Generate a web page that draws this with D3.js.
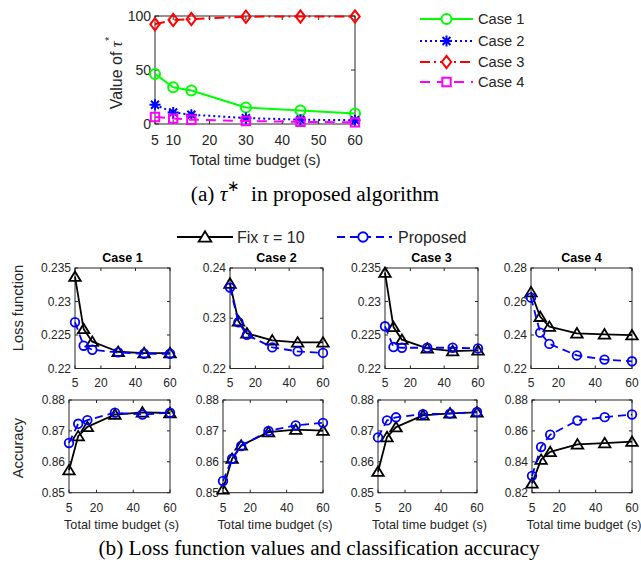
<!DOCTYPE html>
<html><head><meta charset="utf-8">
<script src="https://cdn.jsdelivr.net/npm/d3@7"></script>
<style>
html,body{margin:0;padding:0;background:#fff;}
svg{display:block;}
text{font-family:"Liberation Sans",Arial,sans-serif;fill:#262626;}
.cap{font-family:"Liberation Serif","Times New Roman",serif;fill:#000;}
</style></head>
<body>
<svg id="chart" width="641" height="567"></svg>
<script>
// ---------- DATA ----------
const timeBudget = [5, 10, 15, 30, 45, 60];
const topXTicks = [5, 10, 20, 30, 40, 50, 60];
const topYTicks = [0, 50, 100];
const tauCase1 = [46.4, 34.0, 31.0, 15.3, 12.6, 9.8];
const tauCase2 = [17.8, 10.7, 8.6, 5.5, 4.0, 3.5];
const tauCase3 = [92.3, 96.3, 97.2, 99.4, 99.5, 99.5];
const tauCase4 = [6.5, 5.0, 4.0, 2.8, 2.0, 1.5];
const caseNames = ["Case 1", "Case 2", "Case 3", "Case 4"];
const methodNames = ["Fix \u03C4 = 10", "Proposed"];
const bottomXTicks = [5, 20, 40, 60];

const lossFix1 = [0.2337, 0.2259, 0.2240, 0.2225, 0.2223, 0.2223];
const lossProp1 = [0.2269, 0.2234, 0.2228, 0.2224, 0.2222, 0.2222];
const lossFix2 = [0.2369, 0.2294, 0.2270, 0.2256, 0.2252, 0.2252];
const lossProp2 = [0.2361, 0.2292, 0.2267, 0.2242, 0.2234, 0.2231];
const lossFix3 = [0.2343, 0.2262, 0.2243, 0.2230, 0.2226, 0.2227];
const lossProp3 = [0.2263, 0.2232, 0.2231, 0.2231, 0.2231, 0.2230];
const lossFix4 = [0.2656, 0.2509, 0.2450, 0.2410, 0.2404, 0.2399];
const lossProp4 = [0.2623, 0.2414, 0.2347, 0.2278, 0.2253, 0.2243];

const accFix1 = [0.8573, 0.8683, 0.8713, 0.8753, 0.8760, 0.8758];
const accProp1 = [0.8661, 0.8723, 0.8735, 0.8759, 0.8753, 0.8759];
const accFix2 = [0.8511, 0.8610, 0.8653, 0.8696, 0.8704, 0.8701];
const accProp2 = [0.8538, 0.8610, 0.8651, 0.8700, 0.8718, 0.8726];
const accFix3 = [0.8568, 0.8680, 0.8712, 0.8750, 0.8757, 0.8760];
const accProp3 = [0.8679, 0.8734, 0.8744, 0.8754, 0.8756, 0.8761];
const accFix4 = [0.8260, 0.8414, 0.8464, 0.8513, 0.8521, 0.8530];
const accProp4 = [0.8309, 0.8496, 0.8575, 0.8667, 0.8689, 0.8706];

const lossTicks1 = ["0.22", "0.225", "0.23", "0.235"];
const lossTicks2 = ["0.22", "0.23", "0.24"];
const lossTicks3 = ["0.22", "0.225", "0.23", "0.235"];
const lossTicks4 = ["0.22", "0.24", "0.26", "0.28"];
const accTicks1 = ["0.85", "0.86", "0.87", "0.88"];
const accTicks2 = ["0.85", "0.86", "0.87", "0.88"];
const accTicks3 = ["0.85", "0.86", "0.87", "0.88"];
const accTicks4 = ["0.82", "0.84", "0.86", "0.88"];

// ---------- DRAWING ----------
const svg = d3.select("#chart");
const AX = "#262626";

function markerPath(type, s) {
  if (type === "circle") return d3.symbol(d3.symbolCircle, Math.PI * s * s)();
  if (type === "square") return `M${-s},${-s}H${s}V${s}H${-s}Z`;
  if (type === "diamond") return `M0,${-s * 1.3}L${s},0L0,${s * 1.3}L${-s},0Z`;
  if (type === "triangle") return `M0,${-s * 1.05}L${s * 1.15},${s * 0.85}L${-s * 1.15},${s * 0.85}Z`;
  if (type === "star") {
    const d = s * 0.72;
    return `M${-s},0H${s}M0,${-s}V${s}M${-d},${-d}L${d},${d}M${-d},${d}L${d},${-d}`;
  }
  return "";
}

function drawSeries(g, x, y, xs, ys, st) {
  const line = d3.line().x((d, i) => x(xs[i])).y(d => y(d));
  g.append("path").datum(ys).attr("d", line)
    .attr("fill", "none").attr("stroke", st.color).attr("stroke-width", st.lw)
    .attr("stroke-dasharray", st.dash || null).attr("stroke-linejoin", "round");
  g.selectAll(null).data(ys).enter().append("path")
    .attr("transform", (d, i) => `translate(${x(xs[i])},${y(d)})`)
    .attr("d", markerPath(st.marker, st.ms))
    .attr("fill", "none").attr("stroke", st.color).attr("stroke-width", st.mlw || st.lw);
}

function drawAxesBox(g, x, y, xTicks, yTickStrs, o) {
  const [x0, x1] = x.range();
  const [y1, y0] = y.range();
  const tl = o.tickLen || 3;
  g.append("rect").attr("x", x0).attr("y", y0).attr("width", x1 - x0).attr("height", y1 - y0)
    .attr("fill", "none").attr("stroke", AX).attr("stroke-width", 1);
  xTicks.forEach(t => {
    const px = x(t);
    g.append("line").attr("x1", px).attr("x2", px).attr("y1", y1).attr("y2", y1 - tl).attr("stroke", AX);
    g.append("line").attr("x1", px).attr("x2", px).attr("y1", y0).attr("y2", y0 + tl).attr("stroke", AX);
    g.append("text").attr("x", px).attr("y", y1 + o.xLabOff).attr("text-anchor", "middle")
      .attr("dominant-baseline", "central").style("font-size", o.tickFont + "px").text(t);
  });
  yTickStrs.forEach(s => {
    const py = y(+s);
    g.append("line").attr("x1", x0).attr("x2", x0 + tl).attr("y1", py).attr("y2", py).attr("stroke", AX);
    g.append("line").attr("x1", x1).attr("x2", x1 - tl).attr("y1", py).attr("y2", py).attr("stroke", AX);
    g.append("text").attr("x", x0 - 4).attr("y", py).attr("text-anchor", "end")
      .attr("dominant-baseline", "central").style("font-size", o.tickFont + "px").text(s);
  });
}

// ---- Top chart ----
const topStyles = [
  {color: "#00ff00", lw: 2, marker: "circle", ms: 5, dash: null},
  {color: "#0000ff", lw: 2, marker: "star", ms: 5.5, dash: "2,3", mlw: 2},
  {color: "#ff0000", lw: 2, marker: "diamond", ms: 4.7, dash: "10,4,2,4"},
  {color: "#ff00ff", lw: 2, marker: "square", ms: 4.2, dash: "10,7"}
];
const tauSeries = [tauCase1, tauCase2, tauCase3, tauCase4];
{
  const x = d3.scaleLinear().domain([5, 60]).range([155, 355]);
  const y = d3.scaleLinear().domain([0, 100]).range([124, 16]);
  const g = svg.append("g");
  drawAxesBox(g, x, y, topXTicks, topYTicks.map(String), {tickFont: 14, xLabOff: 16, tickLen: 4});
  tauSeries.forEach((s, i) => drawSeries(g, x, y, timeBudget, s, topStyles[i]));
  g.append("text").attr("x", 255).attr("y", 160).attr("text-anchor", "middle")
    .attr("dominant-baseline", "central").style("font-size", "14.5px").text("Total time budget (s)");
  const yl = g.append("text").attr("transform", "translate(116,73) rotate(-90)").attr("text-anchor", "middle")
    .attr("dominant-baseline", "central").style("font-size", "16px");
  yl.append("tspan").text("Value of ");
  yl.append("tspan").style("font-style", "italic").style("font-family", "'Liberation Serif',serif").style("font-size", "17px").text("\u03C4");
  yl.append("tspan").attr("dy", -7).style("font-size", "11px").text("*");
  // legend
  const ly = [19, 41, 62, 82];
  caseNames.forEach((n, i) => {
    const st = topStyles[i];
    g.append("line").attr("x1", 420).attr("x2", 473).attr("y1", ly[i]).attr("y2", ly[i])
      .attr("stroke", st.color).attr("stroke-width", st.lw).attr("stroke-dasharray", st.dash || null);
    g.append("path").attr("transform", `translate(446.5,${ly[i]})`).attr("d", markerPath(st.marker, st.ms))
      .attr("fill", "#fff").attr("stroke", st.color).attr("stroke-width", st.lw);
    g.append("text").attr("x", 478).attr("y", ly[i]).attr("dominant-baseline", "central")
      .style("font-size", "14.7px").text(n);
  });
  svg.append("text").attr("class", "cap").attr("x", 315).attr("y", 194).attr("text-anchor", "middle")
    .attr("dominant-baseline", "central").style("font-size", "21.3px")
    .call(t => {
      t.append("tspan").text("(a) ");
      t.append("tspan").style("font-style", "italic").text("\u03C4");
      t.append("tspan").attr("dy", -8).style("font-size", "15px").text("\u2217");
      t.append("tspan").attr("dy", 8).text("\u2002in proposed algorithm");
    });
}

// ---- Bottom panels ----
const botStyles = [
  {color: "#000000", lw: 1.8, marker: "triangle", ms: 5, dash: null},
  {color: "#0000ff", lw: 1.8, marker: "circle", ms: 4.3, dash: "8,5"}
];
const lossFix = [lossFix1, lossFix2, lossFix3, lossFix4];
const lossProp = [lossProp1, lossProp2, lossProp3, lossProp4];
const accFix = [accFix1, accFix2, accFix3, accFix4];
const accProp = [accProp1, accProp2, accProp3, accProp4];
const lossTicks = [lossTicks1, lossTicks2, lossTicks3, lossTicks4];
const accTicks = [accTicks1, accTicks2, accTicks3, accTicks4];

const row1X = [[75, 170], [230, 323], [385, 478], [531, 632]];
const row2X = [[69, 170], [223, 323], [378, 477], [532, 632]];
const row1Y = [268, 368.5];
const row2Y = [400, 492.7];

for (let c = 0; c < 4; c++) {
  // loss
  {
    const t = lossTicks[c];
    const x = d3.scaleLinear().domain([5, 60]).range(row1X[c]);
    const y = d3.scaleLinear().domain([+t[0], +t[t.length - 1]]).range([row1Y[1], row1Y[0]]);
    const g = svg.append("g");
    drawAxesBox(g, x, y, bottomXTicks, t, {tickFont: 12, xLabOff: 14.5, tickLen: 3});
    drawSeries(g, x, y, timeBudget, lossFix[c], botStyles[0]);
    drawSeries(g, x, y, timeBudget, lossProp[c], botStyles[1]);
    g.append("text").attr("x", (row1X[c][0] + row1X[c][1]) / 2).attr("y", 258).attr("text-anchor", "middle")
      .attr("dominant-baseline", "central").style("font-size", "12.5px").style("font-weight", "bold").style("fill", "#000")
      .text(caseNames[c]);
  }
  // accuracy
  {
    const t = accTicks[c];
    const x = d3.scaleLinear().domain([5, 60]).range(row2X[c]);
    const y = d3.scaleLinear().domain([+t[0], +t[t.length - 1]]).range([row2Y[1], row2Y[0]]);
    const g = svg.append("g");
    drawAxesBox(g, x, y, bottomXTicks, t, {tickFont: 12, xLabOff: 15, tickLen: 3});
    drawSeries(g, x, y, timeBudget, accFix[c], botStyles[0]);
    drawSeries(g, x, y, timeBudget, accProp[c], botStyles[1]);
    g.append("text").attr("x", (row2X[c][0] + row2X[c][1]) / 2 + 2).attr("y", 525).attr("text-anchor", "middle")
      .attr("dominant-baseline", "central").style("font-size", "12.7px").text("Total time budget (s)");
  }
}
svg.append("text").attr("transform", "translate(18,308) rotate(-90)").attr("text-anchor", "middle")
  .attr("dominant-baseline", "central").style("font-size", "14.7px").text("Loss function");
svg.append("text").attr("transform", "translate(18,448) rotate(-90)").attr("text-anchor", "middle")
  .attr("dominant-baseline", "central").style("font-size", "14.7px").text("Accuracy");

// bottom legend
{
  const items = [
    {x1: 177, x2: 233, mx: 205, tx: 237},
    {x1: 337, x2: 392, mx: 363, tx: 398}
  ];
  items.forEach((it, i) => {
    const st = botStyles[i];
    svg.append("line").attr("x1", it.x1).attr("x2", it.x2).attr("y1", 237).attr("y2", 237)
      .attr("stroke", st.color).attr("stroke-width", st.lw).attr("stroke-dasharray", st.dash || null);
    svg.append("path").attr("transform", `translate(${it.mx},237)`).attr("d", markerPath(st.marker, st.ms * 1.1))
      .attr("fill", "#fff").attr("stroke", st.color).attr("stroke-width", st.lw);
    const t = svg.append("text").attr("x", it.tx).attr("y", 237).attr("dominant-baseline", "central")
      .style("font-size", "16px");
    if (i === 0) {
      t.append("tspan").text("Fix ");
      t.append("tspan").style("font-style", "italic").style("font-family", "'Liberation Serif',serif").text("\u03C4");
      t.append("tspan").text(" = 10");
    } else {
      t.text(methodNames[1]);
    }
  });
}
svg.append("text").attr("class", "cap").attr("x", 319).attr("y", 548).attr("text-anchor", "middle")
  .attr("dominant-baseline", "central").style("font-size", "21.3px")
  .text("(b) Loss function values and classification accuracy");
</script>
</body></html>
